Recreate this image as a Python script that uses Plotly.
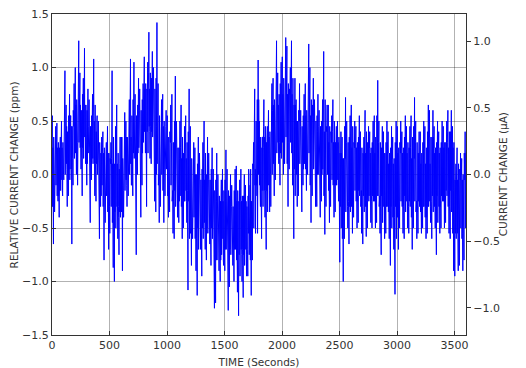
import plotly.graph_objects as go

# 20-second block upper/lower extremes (ppm)
HI = [0.55, 0.45, 0.48, 0.35, 0.5,
      0.97, 0.65, 0.75, 0.55, 0.85,
      1.0, 1.25, 0.95, 0.9, 1.18,
      0.8, 0.7, 0.75, 1.08, 0.55,
      0.5, 0.35, 0.4, 0.3, 0.45,
      0.3, 0.97, 0.45, 0.65, 0.35,
      0.35, 0.58, 0.5, 0.7, 1.08,
      1.05, 0.75, 0.9, 0.8, 0.85,
      1.1, 1.05, 1.33, 1.15, 1.0,
      1.42, 0.85, 0.7, 0.75, 0.6,
      0.55, 0.65, 0.75, 0.92, 0.5,
      0.5, 0.65, 0.45, 0.55, 0.8,
      0.45, 0.3, 0.25, 0.35, 0.2,
      0.3, 0.5, 0.35, 0.2, 0.25,
      0.05, 0.2, 0.0, -0.05, 0.05,
      0.23, 0.05, 0.0, -0.1, 0.05,
      0.08, -0.05, 0.05, 0.0, -0.1,
      0.0, -0.1, 0.3, 0.8, 1.07,
      0.5, 0.35, 0.7, 0.45, 0.6,
      0.85, 0.9, 1.25, 0.95, 1.05,
      1.1, 1.28, 1.2, 1.0, 1.25,
      0.9, 0.7, 0.85, 0.6, 0.75,
      0.85, 1.22, 1.0, 0.9, 0.7,
      0.75, 0.6, 0.7, 1.15, 0.65,
      0.65, 0.55, 0.7, 0.45, 0.5,
      0.4, 0.35, 0.72, 0.5, 0.55,
      0.65, 0.5, 0.45, 0.55, 0.4,
      0.35, 0.6, 0.45, 0.4, 0.5,
      0.55, 0.88, 0.5, 0.45, 0.4,
      0.5, 0.4, 0.45, 0.35, 0.5,
      0.45, 0.5, 0.4, 0.55, 0.45,
      0.45, 0.55, 0.72, 0.5, 0.4,
      0.4, 0.5, 0.45, 0.65, 0.6,
      0.6, 0.45, 0.5, 0.4, 0.5,
      0.45, 0.5, 0.6, 0.6, 0.45,
      0.1, 0.25, 0.2, 0.15, 0.4]

LO = [-0.65, -0.35, -0.25, -0.4, -0.2,
      -0.05, -0.3, -0.2, -0.65, -0.1,
      0.0, -0.1, 0.05, -0.2, 0.1,
      -0.1, -0.45, -0.05, -0.2, -0.25,
      -0.6, -0.3, -0.8, -0.45, -0.7,
      -0.55, -0.87, -1.0, -0.6, -0.75,
      -0.9, -0.4, -0.3, -0.2, -0.1,
      -0.2, -0.75, 0.0, -0.4, -0.1,
      0.2, -0.3, 0.15, 0.1, -0.25,
      -0.35, -0.45, -0.3, -0.45, -0.2,
      -0.4, -0.35, -0.55, -0.6, -0.4,
      -0.45, -0.6, -0.5, -0.45, -1.08,
      -0.85, -0.6, -0.9, -1.13, -0.7,
      -0.95, -0.7, -0.8, -0.65, -0.85,
      -1.25, -1.2, -0.9, -1.0, -0.85,
      -0.9, -1.27, -1.05, -0.85, -1.0,
      -1.1, -1.32, -1.0, -1.15, -0.95,
      -0.95, -1.13, -0.8, -0.3, -0.2,
      -0.3, -0.6, -0.4, -0.7, -0.35,
      -0.3, -0.2, -0.05, 0.1, -0.1,
      0.0, 0.1, -0.3, 0.05, -0.1,
      -0.6, -0.3, -0.2, -0.35, -0.1,
      -0.15, 0.0, -0.45, -0.2, -0.3,
      -0.3, -0.4, -0.25, -0.56, -0.3,
      -0.45, -0.3, -0.4, -0.35, -0.25,
      -0.82, -1.0, -0.6, -0.5, -0.65,
      -0.55, -0.4, -0.5, -0.45, -0.55,
      -0.65, -0.58, -0.5, -0.45, -0.5,
      -0.5, -0.45, -0.55, -0.75, -0.6,
      -0.55, -0.6, -0.85, -0.7, -1.12,
      -0.7, -0.5, -0.55, -0.6, -0.5,
      -0.55, -0.7, -0.5, -0.6, -0.55,
      -0.55, -0.5, -0.6, -0.55, -0.45,
      -0.6, -0.5, -0.75, -0.55, -0.5,
      -0.5, -0.45, -0.55, -0.6, -0.9,
      -0.95, -0.9, -0.85, -0.9, -0.8]

# 20-second block secondary excursions (ppm), estimated
HI2 = [0.35, 0.2, 0.3, 0.25, 0.3,
       0.5, 0.4, 0.55, 0.45, 0.6,
       0.7, 0.8, 0.6, 0.75, 0.65,
       0.6, 0.45, 0.55, 0.65, 0.4,
       0.3, 0.2, 0.25, 0.1, 0.2,
       0.15, 0.35, 0.1, 0.2, 0.05,
       0.15, 0.3, 0.35, 0.45, 0.55,
       0.7, 0.55, 0.65, 0.6, 0.7,
       0.85, 0.8, 0.95, 0.9, 0.8,
       0.9, 0.55, 0.45, 0.5, 0.4,
       0.35, 0.4, 0.3, 0.5, 0.25,
       0.25, 0.35, 0.2, 0.3, 0.4,
       0.15, 0.05, 0.0, 0.1, -0.05,
       0.05, 0.2, 0.0, -0.05, 0.05,
       -0.15, -0.05, -0.2, -0.25, -0.15,
       -0.05, -0.15, -0.2, -0.3, -0.15,
       -0.15, -0.25, -0.2, -0.2, -0.3,
       -0.2, -0.25, 0.1, 0.5, 0.7,
       0.35, 0.25, 0.45, 0.3, 0.4,
       0.6, 0.7, 0.8, 0.75, 0.85,
       0.9, 0.95, 0.85, 0.8, 0.9,
       0.65, 0.5, 0.6, 0.45, 0.55,
       0.6, 0.85, 0.7, 0.65, 0.5,
       0.55, 0.45, 0.5, 0.7, 0.45,
       0.45, 0.4, 0.5, 0.3, 0.35,
       0.2, 0.15, 0.45, 0.3, 0.35,
       0.45, 0.3, 0.3, 0.35, 0.25,
       0.2, 0.4, 0.3, 0.25, 0.3,
       0.35, 0.55, 0.3, 0.25, 0.2,
       0.3, 0.2, 0.25, 0.15, 0.3,
       0.25, 0.3, 0.25, 0.35, 0.3,
       0.25, 0.35, 0.45, 0.3, 0.2,
       0.2, 0.3, 0.25, 0.4, 0.35,
       0.35, 0.25, 0.3, 0.25, 0.3,
       0.3, 0.3, 0.4, 0.4, 0.3,
       -0.05, 0.1, 0.05, 0.0, 0.2]

LO2 = [-0.3, -0.1, -0.2, -0.15, -0.05,
       0.0, 0.1, -0.05, 0.05, 0.15,
       0.2, 0.3, 0.25, 0.15, 0.35,
       0.2, 0.05, 0.15, 0.1, 0.0,
       -0.25, -0.1, -0.3, -0.2, -0.35,
       -0.3, -0.45, -0.5, -0.3, -0.4,
       -0.35, -0.15, -0.05, 0.0, 0.1,
       0.15, 0.0, 0.25, 0.1, 0.3,
       0.4, 0.2, 0.45, 0.35, 0.2,
       0.1, -0.1, 0.0, -0.15, 0.05,
       -0.2, -0.1, -0.25, -0.3, -0.15,
       -0.2, -0.3, -0.25, -0.15, -0.6,
       -0.55, -0.4, -0.6, -0.7, -0.45,
       -0.6, -0.45, -0.55, -0.4, -0.6,
       -0.85, -0.8, -0.65, -0.75, -0.6,
       -0.7, -0.9, -0.75, -0.6, -0.7,
       -0.8, -0.95, -0.7, -0.85, -0.7,
       -0.75, -0.8, -0.5, -0.1, 0.0,
       -0.1, -0.3, -0.15, -0.35, -0.1,
       0.0, 0.1, 0.2, 0.3, 0.15,
       0.3, 0.35, 0.1, 0.3, 0.2,
       -0.2, 0.0, 0.1, -0.05, 0.1,
       0.05, 0.2, -0.1, 0.05, 0.0,
       0.0, -0.1, 0.05, -0.2, 0.0,
       -0.15, -0.05, -0.1, -0.1, -0.05,
       -0.5, -0.6, -0.35, -0.25, -0.35,
       -0.3, -0.15, -0.25, -0.2, -0.3,
       -0.35, -0.3, -0.25, -0.2, -0.25,
       -0.25, -0.2, -0.3, -0.45, -0.3,
       -0.3, -0.35, -0.5, -0.4, -0.6,
       -0.4, -0.25, -0.3, -0.35, -0.25,
       -0.3, -0.4, -0.25, -0.35, -0.3,
       -0.35, -0.3, -0.4, -0.3, -0.25,
       -0.35, -0.3, -0.45, -0.3, -0.25,
       -0.25, -0.2, -0.3, -0.35, -0.55,
       -0.6, -0.55, -0.5, -0.6, -0.5]

# 100-second chunk core band (ppm)
CORE_LO = [-0.15, 0.05, 0.25, 0.1, -0.2, -0.35, -0.1, 0.2, 0.4, 0.0,
           -0.15, -0.25, -0.5, -0.5, -0.8, -0.7, -0.75, -0.55, -0.15, 0.2,
           0.3, 0.05, 0.1, 0.0, -0.1, -0.3, -0.15, -0.2, -0.2, -0.3,
           -0.2, -0.25, -0.3, -0.2, -0.15, -0.55]
CORE_HI = [0.25, 0.45, 0.65, 0.5, 0.2, 0.1, 0.35, 0.6, 0.8, 0.45,
           0.3, 0.15, 0.0, -0.05, -0.25, -0.25, -0.25, 0.05, 0.35, 0.65,
           0.75, 0.5, 0.55, 0.4, 0.3, 0.15, 0.25, 0.2, 0.2, 0.1,
           0.2, 0.15, 0.1, 0.2, 0.25, -0.05]

BLOCK_S = 20
STEP_S = 2.5

t, v = [], []
for i in range(len(HI)):
    c = i // 5
    lo_c, hi_c = CORE_LO[c], CORE_HI[c]
    if i % 2 == 0:
        seq = [HI2[i], HI[i], LO2[i], hi_c, lo_c, LO[i], HI2[i], LO2[i]]
    else:
        seq = [LO2[i], LO[i], HI2[i], lo_c, hi_c, HI[i], LO2[i], HI2[i]]
    for k, val in enumerate(seq):
        t.append(i * BLOCK_S + k * STEP_S)
        v.append(val)

fig = go.Figure()
fig.add_trace(go.Scatter(x=t, y=v, mode="lines",
                         line=dict(color="#0000ff", width=1),
                         showlegend=False, hoverinfo="skip"))
fig.add_trace(go.Scatter(x=[None], y=[None], yaxis="y2", mode="lines",
                         showlegend=False))

font = dict(family="DejaVu Sans", size=11, color="#333333")
grid = "rgba(0,0,0,0.3)"
fig.update_layout(
    width=518, height=360,
    margin=dict(l=44, r=60, t=6, b=33),
    paper_bgcolor="white", plot_bgcolor="white",
    font=font,
    xaxis=dict(range=[0, 3600], tickvals=[0, 500, 1000, 1500, 2000, 2500, 3000, 3500],
               automargin=False,
               showgrid=True, gridcolor=grid, gridwidth=1,
               showline=True, linecolor="#333333", linewidth=1.2, mirror=True,
               ticks="inside", ticklen=4, tickcolor="#333333", zeroline=False,
               title=dict(text="TIME (Seconds)", font=dict(size=10.5)),
               tickfont=dict(size=11)),
    yaxis=dict(range=[-1.5, 1.50001], tickvals=[-1.5, -1.0, -0.5, 0.0, 0.5, 1.0, 1.5],
               tickformat=".1f", automargin=False, ticklabeloverflow="allow",
               showgrid=True, gridcolor=grid, gridwidth=1,
               showline=True, linecolor="#333333", linewidth=1.2,
               ticks="inside", ticklen=4, tickcolor="#333333", zeroline=False,
               tickfont=dict(size=11)),
    yaxis2=dict(range=[-1.205, 1.205], tickvals=[-1.0, -0.5, 0.0, 0.5, 1.0],
                tickformat=".1f", overlaying="y", side="right", automargin=False,
                showgrid=False, zeroline=False,
                showline=True, linecolor="#333333", linewidth=1.2,
                ticks="outside", ticklen=4, tickcolor="#333333",
                tickfont=dict(size=11)),
    annotations=[
        dict(text="RELATIVE CURRENT CHANGE (ppm)", textangle=-90,
             xref="paper", yref="paper", x=-0.092, y=0.5,
             xanchor="center", yanchor="middle", showarrow=False,
             font=dict(size=10.5)),
        dict(text="CURRENT CHANGE (µA)", textangle=-90,
             xref="paper", yref="paper", x=1.089, y=0.5,
             xanchor="center", yanchor="middle", showarrow=False,
             font=dict(size=10.5)),
    ],
)

fig.write_html("out.html")
